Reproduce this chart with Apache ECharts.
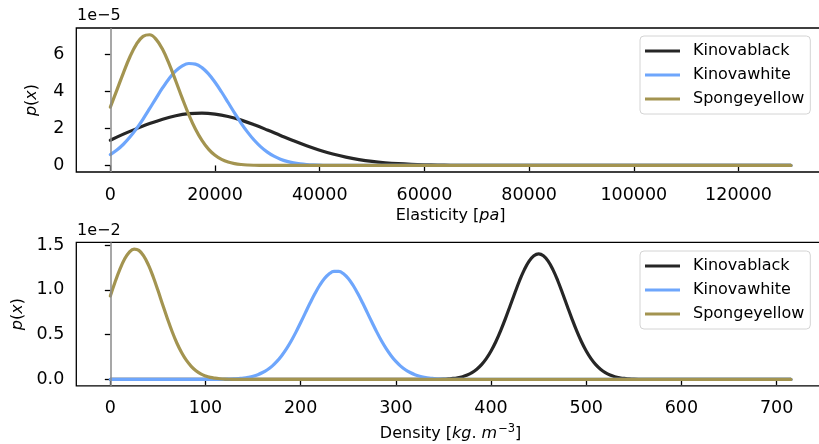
<!DOCTYPE html>
<html>
<head>
<meta charset="utf-8">
<script src="https://cdn.jsdelivr.net/npm/echarts@6/dist/echarts.min.js"></script>
<style>
  html, body { margin: 0; padding: 0; background: #ffffff; }
  #chart { width: 819px; height: 444px; }
</style>
</head>
<body>
<div id="chart"></div>
<script>
// Material names and line colours
const seriesNames = ['Kinovablack', 'Kinovawhite', 'Spongeyellow'];
const seriesColors = ['#262626', '#6ea6fc', '#a39450'];

// ---- Elasticity panel: x in Pa, densities in units of 1e-5 ----
const elasticityBlackX = [0, 2500, 5000, 7500, 10000, 12500, 15000, 17500, 20000, 22500,
  25000, 27500, 30000, 32500, 35000, 37500, 40000, 42500, 45000, 47500,
  50000, 52500, 55000, 57500, 60000, 62500, 65000, 67500, 70000, 72500,
  75000, 130000];
const elasticityBlack = [1.36, 1.687, 1.979, 2.255, 2.493, 2.676, 2.788, 2.82, 2.768, 2.638,
  2.440, 2.191, 1.910, 1.616, 1.327, 1.058, 0.819, 0.615, 0.449, 0.318,
  0.218, 0.146, 0.094, 0.059, 0.036, 0.021, 0.012, 0.006, 0.003, 0.001,
  0, 0];

const elasticityWhiteX = [0, 1250, 2500, 3750, 5000, 6250, 7500, 8750, 10000, 11250,
  12500, 13750, 15000, 16250, 17500, 18750, 20000, 21250, 22500, 23750,
  25000, 26250, 27500, 28750, 30000, 31250, 32500, 33750, 35000, 36250,
  37500, 38750, 40000, 41250, 42500, 43750, 45000, 46250, 130000];
const elasticityWhite = [0.585, 0.829, 1.142, 1.528, 1.983, 2.500, 3.058, 3.631, 4.186, 4.684,
  5.09, 5.366, 5.49, 5.459, 5.27, 4.931, 4.48, 3.956, 3.39, 2.818,
  2.27, 1.782, 1.356, 1.001, 0.718, 0.499, 0.337, 0.221, 0.141, 0.087,
  0.052, 0.030, 0.017, 0.009, 0.005, 0.002, 0.001, 0, 0];

const elasticityYellowX = [0, 1250, 2500, 3750, 5000, 6250, 7500, 8750, 10000, 11250,
  12500, 13750, 15000, 16250, 17500, 18750, 20000, 21250, 22500, 23750,
  25000, 26250, 27500, 28750, 30000, 31250, 32500, 130000];
const elasticityYellow = [3.14, 4.057, 4.99, 5.854, 6.54, 6.951, 7.04, 6.791, 6.24, 5.457,
  4.55, 3.609, 2.73, 1.963, 1.35, 0.879, 0.546, 0.324, 0.182, 0.098,
  0.050, 0.024, 0.011, 0.005, 0.002, 0.001, 0, 0];

const elasticityXTicks = [0, 20000, 40000, 60000, 80000, 100000, 120000];
const elasticityYTicks = [0, 2, 4, 6];

// ---- Density panel: x in kg/m^3, densities in units of 1e-2 ----
const densityBlackX = [0, 325, 330, 335, 340, 345, 350, 355, 360, 365,
  370, 375, 380, 385, 390, 395, 400, 405, 410, 415,
  420, 425, 430, 435, 440, 445, 450, 455, 460, 465,
  470, 475, 480, 485, 490, 495, 500, 505, 510, 515,
  520, 525, 530, 535, 540, 545, 550, 555, 560, 565,
  570, 715];
const densityBlack = [0, 0, 0, 0.001, 0.001, 0.002, 0.004, 0.007, 0.011, 0.019,
  0.031, 0.049, 0.076, 0.114, 0.165, 0.232, 0.317, 0.420, 0.541, 0.676,
  0.820, 0.965, 1.104, 1.225, 1.319, 1.379, 1.400, 1.379, 1.319, 1.225,
  1.104, 0.965, 0.820, 0.676, 0.541, 0.420, 0.317, 0.232, 0.165, 0.114,
  0.076, 0.049, 0.031, 0.019, 0.011, 0.007, 0.004, 0.002, 0.001, 0.001,
  0, 0];

const densityWhiteX = [0, 115, 120, 125, 130, 135, 140, 145, 150, 155,
  160, 165, 170, 175, 180, 185, 190, 195, 200, 205,
  210, 215, 220, 225, 230, 235, 240, 245, 250, 255,
  260, 265, 270, 275, 280, 285, 290, 295, 300, 305,
  310, 315, 320, 325, 330, 335, 340, 345, 350, 355,
  360, 365, 715];
const densityWhite = [0, 0.001, 0.002, 0.004, 0.006, 0.010, 0.015, 0.024, 0.036, 0.053,
  0.077, 0.108, 0.149, 0.201, 0.265, 0.341, 0.429, 0.528, 0.635, 0.745,
  0.855, 0.959, 1.051, 1.126, 1.179, 1.206, 1.206, 1.179, 1.126, 1.051,
  0.959, 0.855, 0.745, 0.635, 0.528, 0.429, 0.341, 0.265, 0.201, 0.149,
  0.108, 0.077, 0.053, 0.036, 0.024, 0.015, 0.010, 0.006, 0.004, 0.002,
  0.001, 0, 0];

const densityYellowX = [0, 5, 10, 15, 20, 25, 30, 35, 40, 45,
  50, 55, 60, 65, 70, 75, 80, 85, 90, 95,
  100, 105, 110, 115, 120, 125, 130, 135, 140, 715];
const densityYellow = [0.930, 1.087, 1.228, 1.343, 1.421, 1.454, 1.440, 1.379, 1.278, 1.146,
  0.994, 0.834, 0.678, 0.532, 0.404, 0.298, 0.212, 0.146, 0.097, 0.062,
  0.039, 0.023, 0.014, 0.008, 0.004, 0.002, 0.001, 0, 0, 0];

const densityXTicks = [0, 100, 200, 300, 400, 500, 600, 700];
const densityYTicks = [0, 0.5, 1.0, 1.5];

const FONT = "'DejaVu Sans', sans-serif";
const TICK_SIZE = 17.5;
const LABEL_SIZE = 16;

const chart = echarts.init(document.getElementById('chart'), null, { renderer: 'canvas' });

function pairs(xs, ys) {
  return xs.map((x, i) => [x, ys[i]]);
}

function lineSeries(name, color, xs, ys, gridIndex, withZeroLine) {
  const s = {
    name: name,
    type: 'line',
    xAxisIndex: gridIndex,
    yAxisIndex: gridIndex,
    data: pairs(xs, ys),
    showSymbol: false,
    smooth: 0.4,
    lineStyle: { color: color, width: 3.2, join: 'round', cap: 'round' },
    itemStyle: { color: color },
    emphasis: { disabled: true },
    silent: true
  };
  if (withZeroLine) {
    s.markLine = {
      silent: true,
      symbol: 'none',
      label: { show: false },
      lineStyle: { color: '#8a8a8a', width: 1.5, type: 'solid' },
      data: [{ xAxis: 0 }]
    };
  }
  return s;
}

const richName = {
  n: { fontFamily: FONT, fontSize: LABEL_SIZE, color: '#000' },
  i: { fontFamily: FONT, fontSize: LABEL_SIZE, fontStyle: 'italic', color: '#000' },
  s: { fontFamily: FONT, fontSize: 11.5, color: '#000', padding: [0, 0, 9, 1] }
};

function xAxisDef(gridIndex, min, max, ticks, name, gap) {
  return {
    type: 'value',
    gridIndex: gridIndex,
    min: min,
    max: max,
    name: name,
    nameLocation: 'middle',
    nameGap: gap,
    nameTextStyle: { rich: richName },
    axisLine: { show: false },
    splitLine: { show: false },
    axisTick: { show: true, inside: false, length: 5.5, customValues: ticks,
      lineStyle: { color: '#000', width: 1.3 } },
    axisLabel: { show: true, customValues: ticks, margin: 14,
      fontFamily: FONT, fontSize: TICK_SIZE, color: '#000',
      formatter: v => String(v) }
  };
}

function yAxisDef(gridIndex, min, max, ticks, digits) {
  return {
    type: 'value',
    gridIndex: gridIndex,
    min: min,
    max: max,
    name: '{i|p}{n|(}{i|x}{n|)}',
    nameLocation: 'middle',
    nameGap: 36,
    nameRotate: 90,
    nameTextStyle: { rich: richName },
    axisLine: { show: false },
    splitLine: { show: false },
    axisTick: { show: true, inside: false, length: 5.5, customValues: ticks,
      lineStyle: { color: '#000', width: 1.3 } },
    axisLabel: { show: true, customValues: ticks, margin: 12,
      fontFamily: FONT, fontSize: TICK_SIZE, color: '#000',
      formatter: v => v.toFixed(digits) }
  };
}

function legendDef(top) {
  return {
    orient: 'vertical',
    left: 640,
    top: top,
    data: seriesNames,
    icon: 'rect',
    itemWidth: 35,
    itemHeight: 3.2,
    itemGap: 6,
    padding: [6, 6, 6, 5],
    backgroundColor: 'rgba(255,255,255,0.8)',
    borderColor: '#d4d4d4',
    borderWidth: 1,
    borderRadius: 4,
    selectedMode: false,
    textStyle: { fontFamily: FONT, fontSize: LABEL_SIZE, color: '#000',
      lineHeight: 18, padding: [0, 0, 0, 8] }
  };
}

const gridStyle = {
  show: true,
  borderColor: '#000',
  borderWidth: 1.3,
  backgroundColor: 'transparent',
  outerBoundsMode: 'none',
  containLabel: false
};

const option = {
  animation: false,
  backgroundColor: '#ffffff',
  grid: [
    Object.assign({ left: 76.3, top: 28, width: 748.6, height: 144 }, gridStyle),
    Object.assign({ left: 76.3, top: 242.3, width: 748.6, height: 143.6 }, gridStyle)
  ],
  xAxis: [
    xAxisDef(0, -6500, 136500, elasticityXTicks, '{n|Elasticity [}{i|pa}{n|]}', 36),
    xAxisDef(1, -35.75, 750.75, densityXTicks, '{n|Density [}{i|kg}{n|. }{i|m}{s|−3}{n|]}', 37)
  ],
  yAxis: [
    yAxisDef(0, -0.3525, 7.4025, elasticityYTicks, 0),
    yAxisDef(1, -0.072, 1.53, densityYTicks, 1)
  ],
  legend: [legendDef(36), legendDef(251)],
  graphic: [
    { type: 'text', left: 77, top: 8,
      style: { text: '1e\u22125', font: LABEL_SIZE + 'px ' + FONT, fill: '#000' } },
    { type: 'text', left: 77, top: 222.5,
      style: { text: '1e\u22122', font: LABEL_SIZE + 'px ' + FONT, fill: '#000' } }
  ],
  series: [
    lineSeries(seriesNames[0], seriesColors[0], elasticityBlackX, elasticityBlack, 0, true),
    lineSeries(seriesNames[1], seriesColors[1], elasticityWhiteX, elasticityWhite, 0, false),
    lineSeries(seriesNames[2], seriesColors[2], elasticityYellowX, elasticityYellow, 0, false),
    lineSeries(seriesNames[0], seriesColors[0], densityBlackX, densityBlack, 1, true),
    lineSeries(seriesNames[1], seriesColors[1], densityWhiteX, densityWhite, 1, false),
    lineSeries(seriesNames[2], seriesColors[2], densityYellowX, densityYellow, 1, false)
  ]
};

chart.setOption(option);
</script>
</body>
</html>
